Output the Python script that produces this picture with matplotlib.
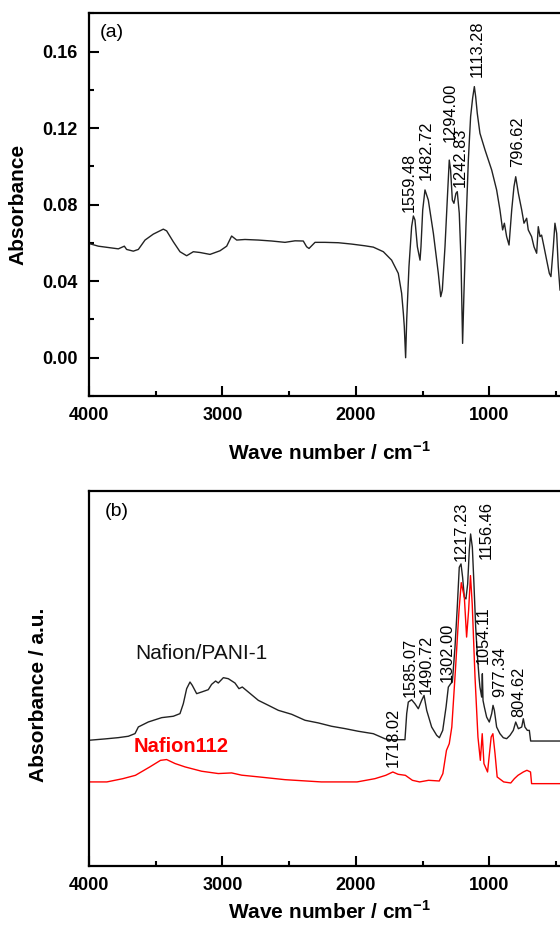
import matplotlib
matplotlib.use('Agg')
import matplotlib.pyplot as plt
from matplotlib.ticker import MultipleLocator, FormatStrFormatter

plt.rcParams['font.family'] = ['Liberation Sans', 'DejaVu Sans']
plt.rcParams['mathtext.fontset'] = 'custom'
plt.rcParams['mathtext.rm'] = 'Liberation Sans'
plt.rcParams['mathtext.bf'] = 'Liberation Sans:bold'

# (a) spectrum: wave number (cm-1) and absorbance
wn_a = [4000, 3930, 3855, 3780, 3735, 3718, 3668, 3630, 3580, 3518, 3443, 3418,
        3368, 3318, 3268, 3218, 3168, 3093, 3018, 2968, 2931, 2893, 2831, 2731,
        2631, 2531, 2456, 2394, 2369, 2351, 2306, 2231, 2131, 2032, 1932, 1869,
        1794, 1732, 1682, 1657, 1644, 1637, 1627, 1619, 1602, 1582, 1569, 1557,
        1539, 1519, 1512, 1499, 1482, 1457, 1419, 1382, 1364, 1352, 1332, 1315,
        1300, 1290, 1277, 1265, 1250, 1240, 1225, 1212, 1200, 1190, 1175, 1157,
        1140, 1125, 1112, 1102, 1090, 1070, 1032, 982, 945, 920, 900, 887, 870,
        852, 832, 815, 802, 782, 757, 740, 720, 708, 683, 665, 645, 633, 620,
        608, 590, 570, 550, 538, 520, 508, 495, 483, 470]
abs_a = [0.0597, 0.0583, 0.0576, 0.0569, 0.0583, 0.0566, 0.0557, 0.0566, 0.0615,
         0.0646, 0.0672, 0.0663, 0.0606, 0.0554, 0.0533, 0.0554, 0.0550, 0.0540,
         0.0559, 0.0583, 0.0636, 0.0615, 0.0618, 0.0615, 0.0610, 0.0603, 0.0611,
         0.0610, 0.0580, 0.0571, 0.0603, 0.0603, 0.0601, 0.0594, 0.0585, 0.0578,
         0.0554, 0.0510, 0.0441, 0.0337, 0.0232, 0.0163, 0.0000, 0.0197, 0.0476,
         0.0685, 0.0741, 0.0720, 0.0580, 0.0510, 0.0580, 0.0772, 0.0877, 0.0824,
         0.0650, 0.0441, 0.0319, 0.0354, 0.0580, 0.0824, 0.1033, 0.0981, 0.0824,
         0.0807, 0.0859, 0.0868, 0.0755, 0.0510, 0.0075, 0.0337, 0.0685, 0.1033,
         0.1260, 0.1356, 0.1417, 0.1364, 0.1277, 0.1173, 0.1086, 0.0981, 0.0877,
         0.0772, 0.0668, 0.0703, 0.0633, 0.0589, 0.0772, 0.0894, 0.0946, 0.0859,
         0.0772, 0.0703, 0.0729, 0.0668, 0.0633, 0.0580, 0.0546, 0.0685, 0.0633,
         0.0641, 0.0580, 0.0510, 0.0441, 0.0424, 0.0580, 0.0703, 0.0650, 0.0476,
         0.0354]

peak_a_text = ['1559.48', '1482.72', '1294.00', '1242.83', '1113.28', '796.62']
peak_a_x = [1599, 1474, 1295, 1220, 1092, 790]
peak_a_y = [0.0763, 0.0929, 0.1129, 0.0894, 0.1469, 0.0999]

# (b) spectra, arbitrary units
wn_pani = [4000, 3880, 3780, 3705, 3655, 3630, 3555, 3455, 3368, 3318, 3293, 3268,
           3243, 3226, 3193, 3156, 3106, 3081, 3051, 3031, 2993, 2956, 2906, 2876,
           2851, 2806, 2731, 2656, 2581, 2481, 2381, 2281, 2182, 2082, 1982, 1869,
           1782, 1744, 1694, 1632, 1619, 1607, 1582, 1557, 1532, 1507, 1489, 1469,
           1432, 1394, 1374, 1349, 1324, 1307, 1290, 1277, 1257, 1240, 1225, 1212,
           1200, 1187, 1175, 1162, 1150, 1140, 1127, 1115, 1102, 1090, 1077, 1070,
           1057, 1052, 1047, 1037, 1020, 1000, 982, 972, 962, 945, 920, 895, 870,
           845, 820, 802, 782, 757, 745, 733, 715, 700, 690, 400]
abs_pani = [0.335, 0.3386, 0.342, 0.3457, 0.3528, 0.3705, 0.3838, 0.3953, 0.399,
            0.406, 0.4326, 0.4725, 0.4902, 0.4814, 0.4592, 0.4636, 0.4698, 0.484,
            0.4929, 0.4876, 0.5018, 0.4991, 0.4876, 0.4725, 0.4769, 0.4636, 0.4414,
            0.4282, 0.4148, 0.4042, 0.3883, 0.3812, 0.3723, 0.3661, 0.359, 0.3525,
            0.339, 0.3365, 0.3365, 0.3365, 0.406, 0.4368, 0.443, 0.4323, 0.419,
            0.4412, 0.4545, 0.4146, 0.3703, 0.348, 0.3418, 0.3614, 0.4235, 0.4767,
            0.4855, 0.49, 0.5831, 0.6896, 0.796, 0.8049, 0.7694, 0.7162, 0.7117,
            0.7517, 0.8404, 0.8847, 0.8492, 0.7517, 0.6364, 0.5654, 0.5033, 0.4767,
            0.4501, 0.5122, 0.4412, 0.4235, 0.3969, 0.3836, 0.406, 0.428, 0.4146,
            0.3703, 0.3525, 0.3418, 0.3392, 0.348, 0.3614, 0.3836, 0.3658, 0.3703,
            0.3924, 0.3703, 0.3614, 0.3614, 0.333, 0.333]

wn_n112 = [4000, 3866, 3746, 3652, 3545, 3464, 3418, 3355, 3280, 3156, 3031, 2931,
           2856, 2731, 2531, 2259, 1991, 1857, 1776, 1723, 1683, 1629, 1576, 1522,
           1455, 1375, 1348, 1321, 1300, 1281, 1254, 1227, 1210, 1187, 1170, 1155,
           1141, 1128, 1107, 1085, 1067, 1053, 1040, 1013, 986, 973, 957, 941, 892,
           839, 812, 785, 745, 718, 691, 683, 400]
abs_n112 = [0.224, 0.224, 0.2327, 0.2416, 0.2638, 0.2815, 0.2836, 0.273, 0.264,
            0.2525, 0.2463, 0.248, 0.242, 0.2375, 0.23, 0.224, 0.224, 0.2327,
            0.2416, 0.2505, 0.2443, 0.2416, 0.2283, 0.224, 0.2283, 0.2265, 0.2461,
            0.3081, 0.3259, 0.3702, 0.5211, 0.6807, 0.755, 0.7161, 0.61, 0.6807,
            0.7738, 0.6984, 0.5033, 0.3436, 0.2815, 0.3525, 0.2727, 0.2505, 0.3436,
            0.3525, 0.2993, 0.2372, 0.224, 0.2212, 0.2327, 0.2416, 0.2505, 0.255,
            0.2505, 0.2194, 0.2194]

peak_b_text = ['1718.02', '1585.07', '1490.72', '1302.00', '1217.23', '1156.46',
               '1054.11', '977.34', '804.62']
peak_b_x = [1718, 1594, 1475, 1318, 1210, 1025, 1045, 920, 778]
peak_b_y = [0.264, 0.450, 0.459, 0.490, 0.814, 0.818, 0.539, 0.450, 0.397]

fig = plt.figure(figsize=(5.6, 9.25), dpi=100)
ax_a = fig.add_axes([0.1589, 0.5719, 0.8578, 0.4137])
ax_b = fig.add_axes([0.1589, 0.0638, 0.8578, 0.4057])

xlabel = r'Wave number / cm$^{\mathbf{-1}}$'

for ax in (ax_a, ax_b):
    ax.set_xlim(4000, 400)
    ax.xaxis.set_major_locator(MultipleLocator(1000))
    ax.xaxis.set_minor_locator(MultipleLocator(500))
    ax.tick_params(which='both', direction='in', width=1.5, labelsize=13, pad=8)
    ax.tick_params(which='major', length=7)
    ax.tick_params(which='minor', length=3.5)
    ax.tick_params(top=False, right=False)
    for s in ax.spines.values():
        s.set_linewidth(1.6)

ax_a.set_xlabel(xlabel, fontsize=15, fontweight='bold', labelpad=12.5)
ax_b.set_xlabel(xlabel, fontsize=15, fontweight='bold', labelpad=4.5)

# (a)
ax_a.plot(wn_a, abs_a, color='#222222', lw=1.0)
ax_a.set_ylim(-0.02, 0.18)
ax_a.yaxis.set_major_locator(MultipleLocator(0.04))
ax_a.yaxis.set_minor_locator(MultipleLocator(0.02))
ax_a.yaxis.set_major_formatter(FormatStrFormatter('%.2f'))
ax_a.set_ylabel('Absorbance', fontsize=15, fontweight='bold')
ax_a.yaxis.set_label_coords(-0.128, 0.5)
ax_a.text(0.023, 0.95, '(a)', transform=ax_a.transAxes, fontsize=14,
          ha='left', va='center')
for t, x, y in zip(peak_a_text, peak_a_x, peak_a_y):
    ax_a.text(x, y, t, rotation=90, ha='center', va='bottom', fontsize=11.8)

# (b)
ax_b.plot(wn_pani, abs_pani, color='#222222', lw=1.0)
ax_b.plot(wn_n112, abs_n112, color='#ff0000', lw=1.0)
ax_b.set_ylim(0, 1)
ax_b.set_yticks([])
ax_b.set_ylabel('Absorbance / a.u.', fontsize=15, fontweight='bold')
ax_b.yaxis.set_label_coords(-0.085, 0.455)
ax_b.text(0.033, 0.944, '(b)', transform=ax_b.transAxes, fontsize=14,
          ha='left', va='center')
ax_b.text(3655, 0.566, 'Nafion/PANI-1', fontsize=15, ha='left', va='center',
          color='#111111')
ax_b.text(3663, 0.319, 'Nafion112', fontsize=14.5, fontweight='bold', ha='left',
          va='center', color='#ff0000')
for t, x, y in zip(peak_b_text, peak_b_x, peak_b_y):
    ax_b.text(x, y, t, rotation=90, ha='center', va='bottom', fontsize=11.8)

for ax in (ax_a, ax_b):
    for lab in ax.get_xticklabels() + ax.get_yticklabels():
        lab.set_fontweight('bold')

fig.savefig('out.png', dpi=100)
